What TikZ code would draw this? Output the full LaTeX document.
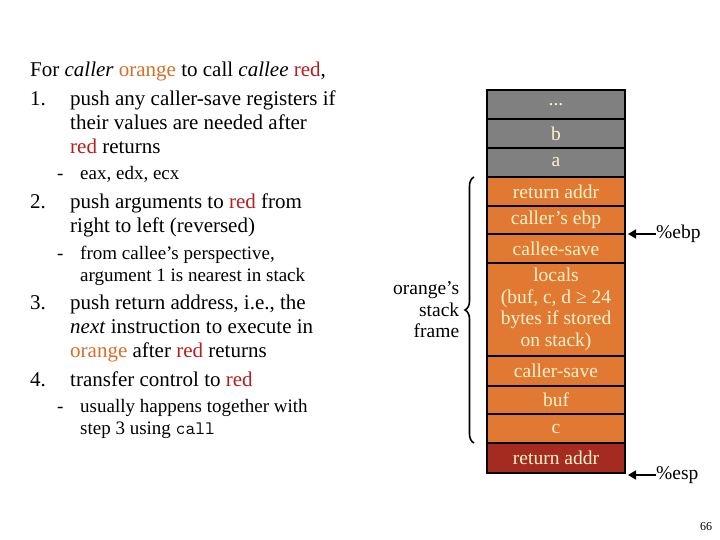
\documentclass[tikz,border=0pt]{standalone}
\usepackage{fontspec}
\setmainfont{Liberation Serif}
\usetikzlibrary{decorations.pathreplacing,arrows.meta}
\definecolor{org}{RGB}{226,121,50}
\definecolor{gry}{RGB}{128,128,128}
\definecolor{drd}{RGB}{165,42,32}
\definecolor{txo}{RGB}{214,110,40}
\definecolor{txr}{RGB}{180,30,30}
\definecolor{cream}{RGB}{255,243,205}
\begin{document}
\begin{tikzpicture}[x=1pt,y=-1pt,
  main/.style={anchor=base west,inner sep=0,font=\fontsize{21}{24}\selectfont},
  sub/.style={anchor=base west,inner sep=0,font=\fontsize{19}{22}\selectfont},
  cell/.style={draw=black,line width=1.2pt,minimum width=138pt,text=cream,font=\fontsize{19.5}{21.5}\selectfont,align=center,inner sep=0},
  lbl/.style={font=\fontsize{19.5}{21.5}\selectfont,inner sep=0}]
\useasboundingbox (0,0) rectangle (720,540);
% left text
\node[main] (t0) at (30,77) {For \textit{caller} \textcolor{txo}{orange} to call \textit{callee} \textcolor{txr}{red},};
\node[main] (n1) at (30,106) {1.};
\node[main] (l1a) at (70,106) {push any caller-save registers if};
\node[main] (l1b) at (70,130) {their values are needed after};
\node[main] (l1c) at (70,154) {\textcolor{txr}{red} returns};
\node[sub] (d1) at (57,180) {-};
\node[sub] (s1) at (80,180) {eax, edx, ecx};
\node[main] (n2) at (30,209) {2.};
\node[main] (l2a) at (70,209) {push arguments to \textcolor{txr}{red} from};
\node[main] (l2b) at (70,233) {right to left (reversed)};
\node[sub] (d2) at (57,259) {-};
\node[sub] (s2a) at (80,259) {from callee’s perspective,};
\node[sub] (s2b) at (80,281) {argument 1 is nearest in stack};
\node[main] (n3) at (30,309) {3.};
\node[main] (l3a) at (70,309) {push return address, i.e., the};
\node[main] (l3b) at (70,333) {\textit{next} instruction to execute in};
\node[main] (l3c) at (70,357) {\textcolor{txo}{orange} after \textcolor{txr}{red} returns};
\node[main] (n4) at (30,386) {4.};
\node[main] (l4a) at (70,386) {transfer control to \textcolor{txr}{red}};
\node[sub] (d4) at (57,412) {-};
\node[sub] (s4a) at (80,412) {usually happens together with};
\node[sub] (s4b) at (80,434) {step 3 using \texttt{call}};
% stack
\node[cell,fill=gry,minimum height=29pt] (c1) at (556,104.5) {...};
\node[cell,fill=gry,minimum height=29pt] (c2) at (556,133.5) {b};
\node[cell,fill=gry,minimum height=29pt] (c3) at (556,162.5) {a};
\node[cell,fill=org,minimum height=29pt] (c4) at (556,191.5) {return addr};
\node[cell,fill=org,minimum height=28pt] (c5) at (556,220) {caller’s ebp};
\node[cell,fill=org,minimum height=29pt] (c6) at (556,248.5) {callee-save};
\node[cell,fill=org,minimum height=93pt] (c7) at (556,309.5) {locals\\(buf, c, d ≥ 24\\bytes if stored\\on stack)};
\node[cell,fill=org,minimum height=30pt] (c8) at (556,371) {caller-save};
\node[cell,fill=org,minimum height=28pt] (c9) at (556,400) {buf};
\node[cell,fill=org,minimum height=29pt] (c10) at (556,428.5) {c};
\node[cell,fill=drd,minimum height=30pt] (c11) at (556,458) {return addr};
% brace
\coordinate (bt) at (474,177);
\coordinate (bb) at (474,443);
\draw[line width=1.6pt,decorate,decoration={brace,amplitude=9pt,aspect=0.5}] (bb) -- (bt) node[midway,left=14pt,lbl,align=right] (fr) {orange’s\\stack\\frame};
% pointers
\node[lbl,anchor=west] (ebp) at (656,234) {\%ebp};
\node[lbl,anchor=west] (esp) at (656,475) {\%esp};
\draw[line width=1.6pt,-{Triangle[length=8pt,width=9pt]}] (ebp.west) -- ++(-28,0);
\draw[line width=1.6pt,-{Triangle[length=8pt,width=9pt]}] (esp.west) -- ++(-28,0);
\node[font=\fontsize{12}{14}\selectfont,inner sep=0] (pg) at (706,527) {66};
\end{tikzpicture}
\end{document}
